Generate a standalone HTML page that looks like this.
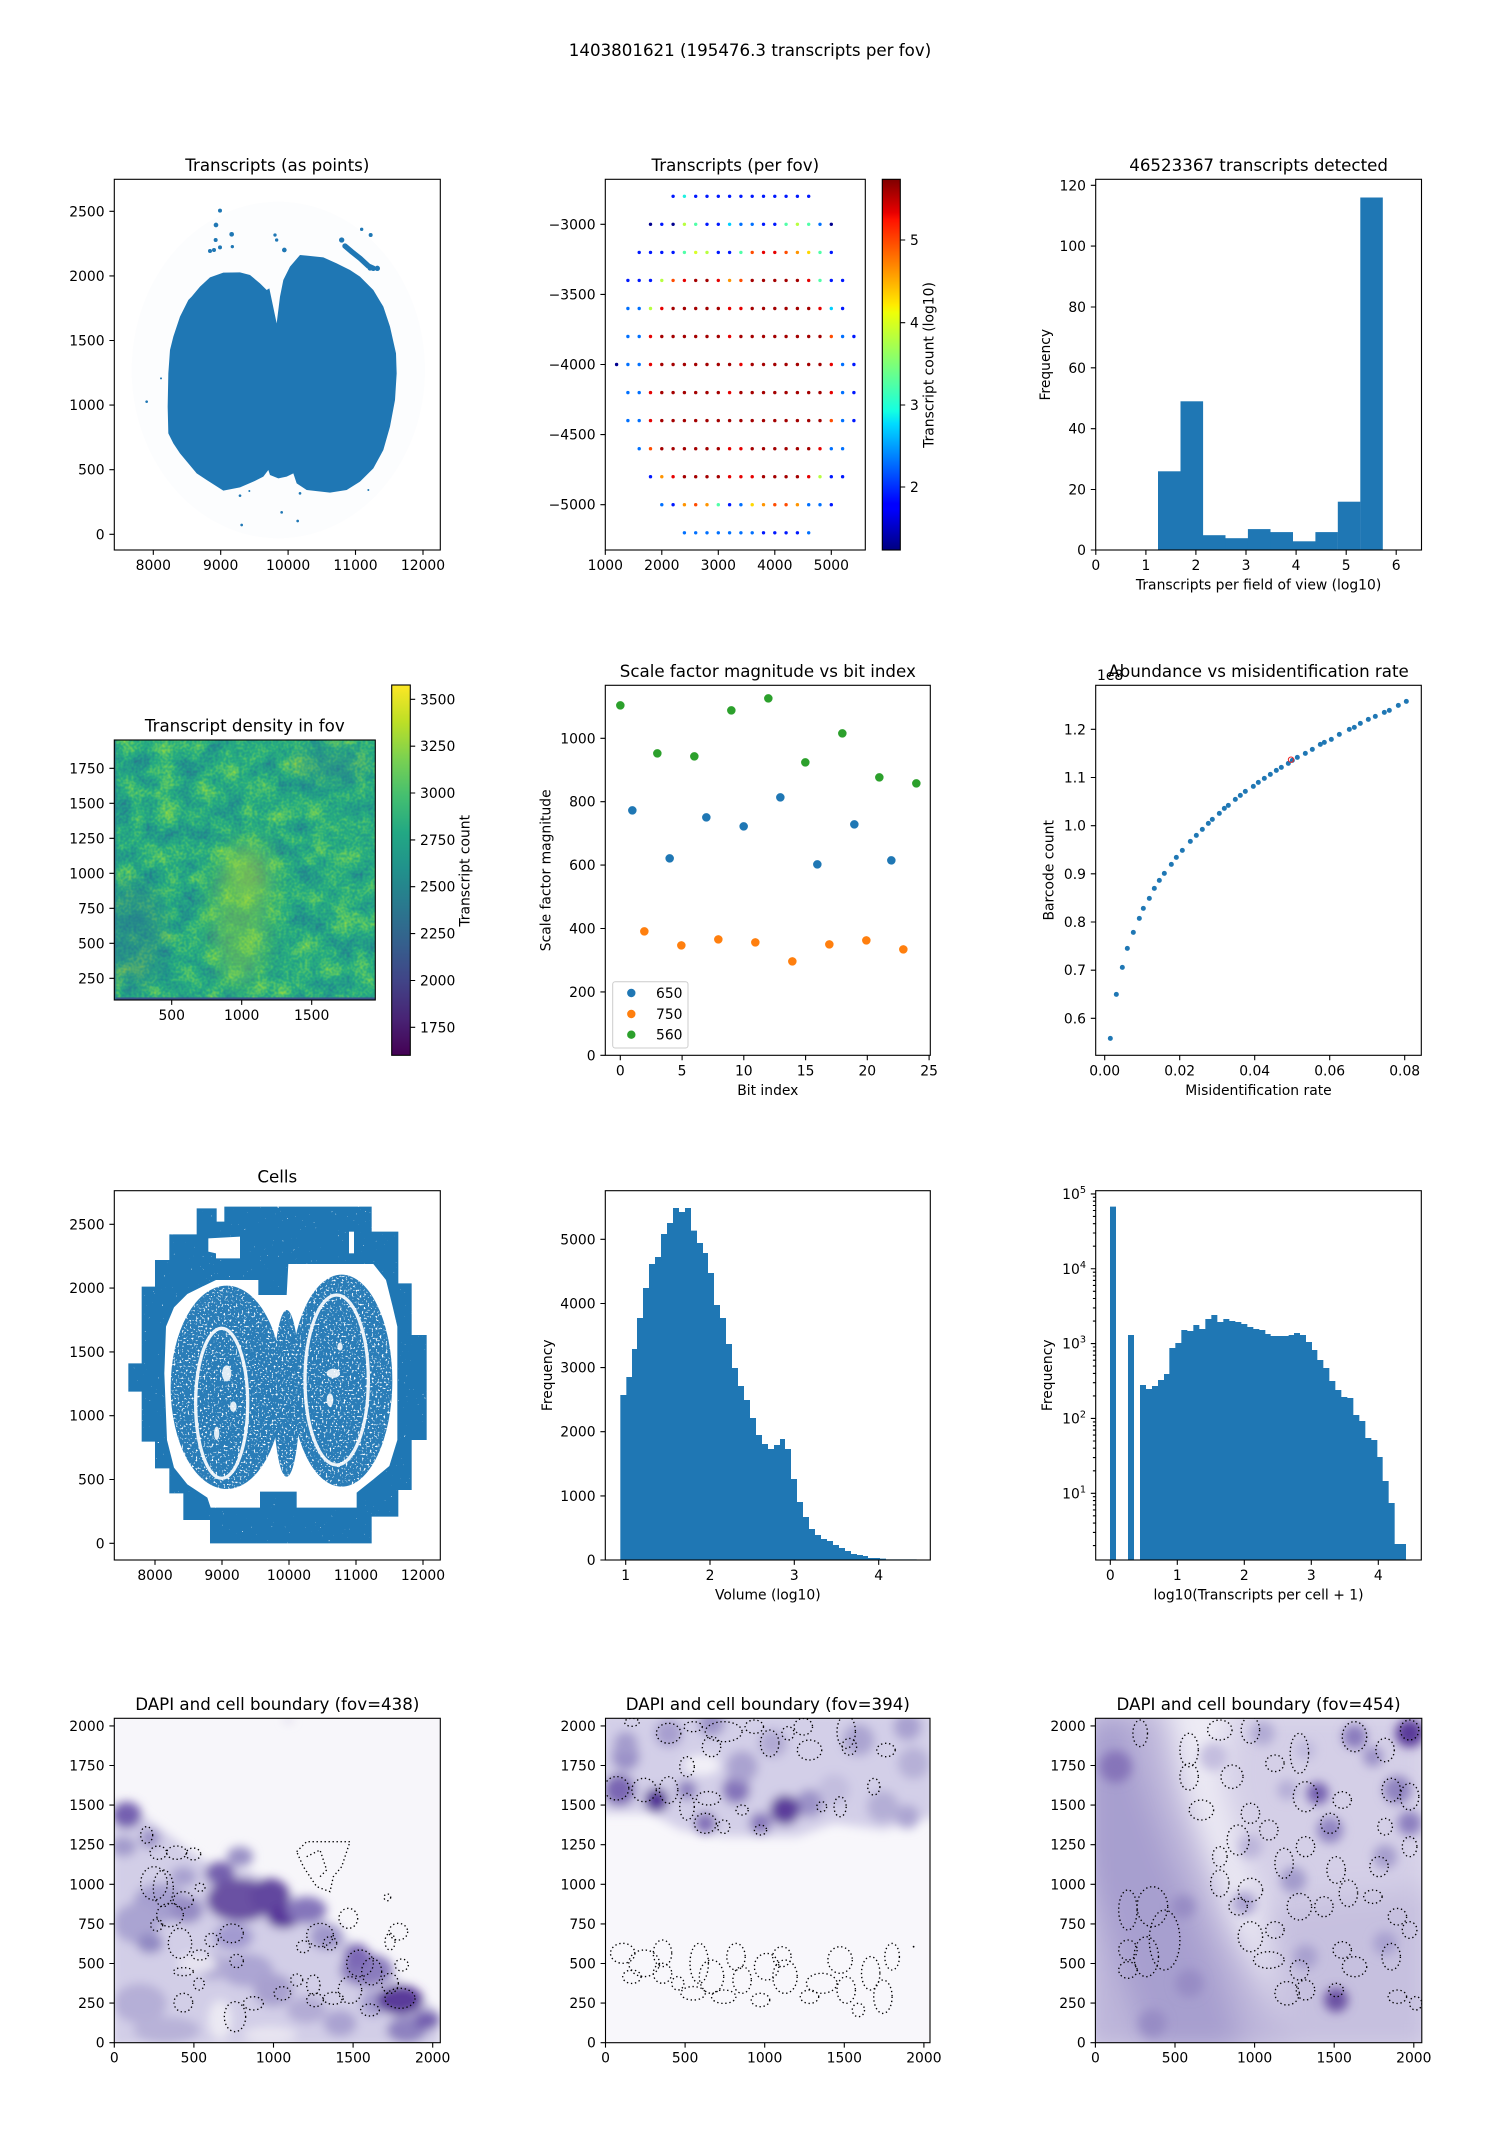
<!DOCTYPE html>
<html><head><meta charset="utf-8"><style>
html,body{margin:0;padding:0;background:#fff;}
svg{display:block;}
text{font-family:"DejaVu Sans","Liberation Sans",sans-serif;fill:#000;}
.t{font-size:13.89px;}
.ti{font-size:16.67px;text-anchor:middle;}
.e{text-anchor:end;}
.c{text-anchor:middle;}
.sp{fill:none;stroke:#000;stroke-width:1.1;}
.tk{stroke:#000;stroke-width:1.1;fill:none;}
.dz{fill:none;stroke:#000;stroke-width:4;stroke-dasharray:4 8;}
.dp{fill:none;stroke:#000;stroke-width:1.35;stroke-dasharray:1.35 2.7;}
.pa{fill:#00008f}.pb{fill:#0018ff}.pc{fill:#0070ff}.pd{fill:#00d0ff}.pe{fill:#20f0e0}.pf{fill:#50ffa8}.pg{fill:#b8ff40}.ph{fill:#d8ff28}.pi{fill:#ffd800}.pj{fill:#ff9400}.pk{fill:#ff4c00}.pl{fill:#e60000}.pm{fill:#a40000}
</style></head><body>
<svg width="1500" height="2150" viewBox="0 0 1500 2150" xmlns="http://www.w3.org/2000/svg">
<defs>
<linearGradient id="jet" x1="0" y1="1" x2="0" y2="0">
<stop offset="0" stop-color="#000080"/><stop offset="0.11" stop-color="#0000ff"/><stop offset="0.125" stop-color="#0000ff"/><stop offset="0.34" stop-color="#00dbff"/><stop offset="0.375" stop-color="#14ffe2"/><stop offset="0.5" stop-color="#7cff79"/><stop offset="0.64" stop-color="#eeff08"/><stop offset="0.66" stop-color="#ffec00"/><stop offset="0.89" stop-color="#ff1300"/><stop offset="0.91" stop-color="#e80000"/><stop offset="1" stop-color="#800000"/>
</linearGradient>
<linearGradient id="vir" x1="0" y1="1" x2="0" y2="0">
<stop offset="0" stop-color="#440154"/><stop offset="0.1" stop-color="#482475"/><stop offset="0.2" stop-color="#414487"/><stop offset="0.3" stop-color="#355f8d"/><stop offset="0.4" stop-color="#2a788e"/><stop offset="0.5" stop-color="#21918c"/><stop offset="0.6" stop-color="#22a884"/><stop offset="0.7" stop-color="#44bf70"/><stop offset="0.8" stop-color="#7ad151"/><stop offset="0.9" stop-color="#bddf26"/><stop offset="1" stop-color="#fde725"/>
</linearGradient>
<filter id="hm" x="0" y="0" width="1" height="1" color-interpolation-filters="sRGB">
<feTurbulence type="fractalNoise" baseFrequency="0.045" numOctaves="3" seed="11" result="n1"/>
<feColorMatrix in="n1" type="matrix" values="1 0 0 0 0  1 0 0 0 0  1 0 0 0 0  0 0 0 0 1" result="m1"/>
<feTurbulence type="fractalNoise" baseFrequency="0.38" numOctaves="1" seed="4" result="n2"/>
<feColorMatrix in="n2" type="matrix" values="1 0 0 0 0  1 0 0 0 0  1 0 0 0 0  0 0 0 0 1" result="m2"/>
<feComposite in="m1" in2="m2" operator="arithmetic" k1="0" k2="0.6" k3="0.4" k4="0" result="cm"/>
<feColorMatrix in="cm" type="matrix" values="0.7 0 0 0 0.27  0.7 0 0 0 0.27  0.7 0 0 0 0.27  0 0 0 0 1"/>
<feComponentTransfer>
<feFuncR type="table" tableValues="0.267 0.278 0.231 0.173 0.129 0.157 0.369 0.678 0.992"/>
<feFuncG type="table" tableValues="0.004 0.176 0.322 0.447 0.569 0.682 0.788 0.863 0.906"/>
<feFuncB type="table" tableValues="0.329 0.482 0.545 0.557 0.549 0.502 0.384 0.188 0.145"/>
</feComponentTransfer>
</filter>
<filter id="spk1" x="0" y="0" width="1" height="1" color-interpolation-filters="sRGB">
<feTurbulence type="fractalNoise" baseFrequency="0.45" numOctaves="2" seed="7"/>
<feColorMatrix type="matrix" values="0 0 0 0 1  0 0 0 0 1  0 0 0 0 1  14 0 0 0 -11"/>
</filter>
<filter id="spk2" x="0" y="0" width="1" height="1" color-interpolation-filters="sRGB">
<feTurbulence type="fractalNoise" baseFrequency="0.5" numOctaves="2" seed="3"/>
<feColorMatrix type="matrix" values="0 0 0 0 1  0 0 0 0 1  0 0 0 0 1  12 0 0 0 -7.4"/>
</filter>
<filter id="bl1" x="-20%" y="-20%" width="140%" height="140%"><feGaussianBlur stdDeviation="14"/></filter>
<filter id="bl2" x="-20%" y="-20%" width="140%" height="140%"><feGaussianBlur stdDeviation="5"/></filter>
<filter id="bl3" x="-50%" y="-50%" width="200%" height="200%"><feGaussianBlur stdDeviation="10"/></filter>
<filter id="bl4" x="-20%" y="-20%" width="140%" height="140%"><feGaussianBlur stdDeviation="14"/></filter>
<clipPath id="c4"><rect x="114.3" y="740" width="261" height="260"/></clipPath>
<clipPath id="c7"><rect x="114.3" y="1190.7" width="326" height="369.3"/></clipPath>
<clipPath id="ov">
<ellipse transform="translate(40,1140) scale(0.333333)" cx="560" cy="742" rx="168" ry="305"/>
<ellipse transform="translate(40,1140) scale(0.333333)" cx="905" cy="722" rx="152" ry="318"/>
<ellipse transform="translate(40,1140) scale(0.333333)" cx="740" cy="760" rx="40" ry="250"/>
</clipPath>
<clipPath id="c10"><rect x="114.3" y="1718.3" width="326" height="324.4"/></clipPath>
<clipPath id="c11"><rect x="605.5" y="1718.3" width="324.5" height="324.4"/></clipPath>
<clipPath id="c12"><rect x="1095.4" y="1718.3" width="326.4" height="324.4"/></clipPath>
</defs>
<rect width="1500" height="2150" fill="#fff"/>

<text x="750" y="56" class="ti">1403801621 (195476.3 transcripts per fov)</text>

<!-- ===== P1 ===== -->
<g transform="translate(40,140) scale(0.333333)">
<ellipse cx="715" cy="690" rx="440" ry="505" fill="#1f77b4" opacity="0.012"/>
<path fill="#1f77b4" d="M710,550 L688,445 L680,450 L660,430 L630,405 L600,397 L550,398 L510,412 L480,440 L455,470 L445,480 L420,530 L400,590 L390,630 L385,700 L383,800 L385,880 L400,910 L420,940 L445,970 L470,1000 L500,1020 L550,1052 L600,1042 L640,1025 L670,1010 L685,990 L690,1005 L715,1015 L740,1010 L760,1000 L770,1030 L800,1050 L870,1058 L920,1050 L960,1025 L1000,985 L1030,930 L1050,860 L1065,780 L1070,700 L1068,640 L1050,560 L1030,500 L1000,450 L960,410 L930,390 L890,370 L850,352 L800,347 L780,345 L750,380 L730,420 L720,470 Z"/>
<g fill="#1f77b4">
<circle cx="540" cy="212" r="6"/><circle cx="528" cy="255" r="7"/><circle cx="527" cy="300" r="6"/><circle cx="522" cy="330" r="6"/><circle cx="510" cy="333" r="6"/><circle cx="540" cy="322" r="6"/><circle cx="575" cy="283" r="7"/><circle cx="577" cy="320" r="5"/><circle cx="705" cy="285" r="5"/><circle cx="710" cy="300" r="5"/><circle cx="733" cy="330" r="7"/><circle cx="905" cy="300" r="8"/><circle cx="965" cy="268" r="5"/><circle cx="992" cy="285" r="6"/><circle cx="1012" cy="385" r="8"/><circle cx="990" cy="385" r="7"/>
<circle cx="605" cy="1155" r="4"/><circle cx="725" cy="1117" r="4"/><circle cx="773" cy="1143" r="4"/><circle cx="780" cy="1060" r="4"/><circle cx="600" cy="1067" r="4"/><circle cx="628" cy="1053" r="3"/><circle cx="320" cy="785" r="4"/><circle cx="363" cy="715" r="3"/><circle cx="985" cy="1050" r="3"/>
</g>
<polyline points="915,318 935,335 960,355 985,378 1000,385" fill="none" stroke="#1f77b4" stroke-width="16" stroke-linecap="round"/>
</g>
<rect x="114.3" y="179.3" width="326" height="370.7" class="sp"/>
<path class="tk" d="M153.3 550v4.9M220.7 550v4.9M288.1 550v4.9M355.5 550v4.9M423 550v4.9M114.3 534.3h-4.9M114.3 469.7h-4.9M114.3 405.1h-4.9M114.3 340.5h-4.9M114.3 275.9h-4.9M114.3 211.3h-4.9"/>
<g class="t c"><text x="153.3" y="570">8000</text><text x="220.7" y="570">9000</text><text x="288.1" y="570">10000</text><text x="355.5" y="570">11000</text><text x="423" y="570">12000</text></g>
<g class="t e"><text x="104.6" y="539.3">0</text><text x="104.6" y="474.7">500</text><text x="104.6" y="410.1">1000</text><text x="104.6" y="345.5">1500</text><text x="104.6" y="280.9">2000</text><text x="104.6" y="216.3">2500</text></g>
<text x="277.3" y="171" class="ti">Transcripts (as points)</text>

<!-- ===== P2 ===== -->
<g transform="translate(0,196.3)"><circle cx="673.1" r="1.7" class="pb"/><circle cx="684.4" r="1.7" class="pe"/><circle cx="695.7" r="1.7" class="pb"/><circle cx="707" r="1.7" class="pb"/><circle cx="718.3" r="1.7" class="pb"/><circle cx="729.6" r="1.7" class="pb"/><circle cx="740.9" r="1.7" class="pb"/><circle cx="752.2" r="1.7" class="pb"/><circle cx="763.5" r="1.7" class="pb"/><circle cx="774.8" r="1.7" class="pb"/><circle cx="786.1" r="1.7" class="pb"/><circle cx="797.4" r="1.7" class="pb"/><circle cx="808.7" r="1.7" class="pb"/></g>
<g transform="translate(0,224.3)"><circle cx="650.5" r="1.7" class="pa"/><circle cx="661.8" r="1.7" class="pb"/><circle cx="673.1" r="1.7" class="pa"/><circle cx="684.4" r="1.7" class="pg"/><circle cx="695.7" r="1.7" class="pf"/><circle cx="707" r="1.7" class="pb"/><circle cx="718.3" r="1.7" class="pb"/><circle cx="729.6" r="1.7" class="pd"/><circle cx="740.9" r="1.7" class="pc"/><circle cx="752.2" r="1.7" class="pc"/><circle cx="763.5" r="1.7" class="pb"/><circle cx="774.8" r="1.7" class="pb"/><circle cx="786.1" r="1.7" class="pf"/><circle cx="797.4" r="1.7" class="pg"/><circle cx="808.7" r="1.7" class="pf"/><circle cx="820" r="1.7" class="pc"/><circle cx="831.3" r="1.7" class="pa"/></g>
<g transform="translate(0,252.4)"><circle cx="639.2" r="1.7" class="pb"/><circle cx="650.5" r="1.7" class="pb"/><circle cx="661.8" r="1.7" class="pb"/><circle cx="673.1" r="1.7" class="pb"/><circle cx="684.4" r="1.7" class="pf"/><circle cx="695.7" r="1.7" class="ph"/><circle cx="707" r="1.7" class="pg"/><circle cx="718.3" r="1.7" class="pb"/><circle cx="729.6" r="1.7" class="pb"/><circle cx="740.9" r="1.7" class="pf"/><circle cx="752.2" r="1.7" class="pk"/><circle cx="763.5" r="1.7" class="pl"/><circle cx="774.8" r="1.7" class="pl"/><circle cx="786.1" r="1.7" class="pk"/><circle cx="797.4" r="1.7" class="pj"/><circle cx="808.7" r="1.7" class="pi"/><circle cx="820" r="1.7" class="pf"/><circle cx="831.3" r="1.7" class="pb"/></g>
<g transform="translate(0,280.4)"><circle cx="627.9" r="1.7" class="pb"/><circle cx="639.2" r="1.7" class="pb"/><circle cx="650.5" r="1.7" class="pb"/><circle cx="661.8" r="1.7" class="pg"/><circle cx="673.1" r="1.7" class="pk"/><circle cx="684.4" r="1.7" class="pl"/><circle cx="695.7" r="1.7" class="pm"/><circle cx="707" r="1.7" class="pm"/><circle cx="718.3" r="1.7" class="pl"/><circle cx="729.6" r="1.7" class="pj"/><circle cx="740.9" r="1.7" class="pk"/><circle cx="752.2" r="1.7" class="pm"/><circle cx="763.5" r="1.7" class="pm"/><circle cx="774.8" r="1.7" class="pm"/><circle cx="786.1" r="1.7" class="pm"/><circle cx="797.4" r="1.7" class="pm"/><circle cx="808.7" r="1.7" class="pl"/><circle cx="820" r="1.7" class="pf"/><circle cx="831.3" r="1.7" class="pb"/><circle cx="842.6" r="1.7" class="pb"/></g>
<g transform="translate(0,308.5)"><circle cx="627.9" r="1.7" class="pc"/><circle cx="639.2" r="1.7" class="pc"/><circle cx="650.5" r="1.7" class="pg"/><circle cx="661.8" r="1.7" class="pl"/><circle cx="673.1" r="1.7" class="pm"/><circle cx="684.4" r="1.7" class="pm"/><circle cx="695.7" r="1.7" class="pm"/><circle cx="707" r="1.7" class="pm"/><circle cx="718.3" r="1.7" class="pm"/><circle cx="729.6" r="1.7" class="pl"/><circle cx="740.9" r="1.7" class="pl"/><circle cx="752.2" r="1.7" class="pm"/><circle cx="763.5" r="1.7" class="pm"/><circle cx="774.8" r="1.7" class="pm"/><circle cx="786.1" r="1.7" class="pm"/><circle cx="797.4" r="1.7" class="pm"/><circle cx="808.7" r="1.7" class="pm"/><circle cx="820" r="1.7" class="pl"/><circle cx="831.3" r="1.7" class="pd"/><circle cx="842.6" r="1.7" class="pb"/></g>
<g transform="translate(0,336.5)"><circle cx="627.9" r="1.7" class="pc"/><circle cx="639.2" r="1.7" class="pc"/><circle cx="650.5" r="1.7" class="pl"/><circle cx="661.8" r="1.7" class="pm"/><circle cx="673.1" r="1.7" class="pm"/><circle cx="684.4" r="1.7" class="pm"/><circle cx="695.7" r="1.7" class="pm"/><circle cx="707" r="1.7" class="pm"/><circle cx="718.3" r="1.7" class="pm"/><circle cx="729.6" r="1.7" class="pl"/><circle cx="740.9" r="1.7" class="pm"/><circle cx="752.2" r="1.7" class="pm"/><circle cx="763.5" r="1.7" class="pm"/><circle cx="774.8" r="1.7" class="pm"/><circle cx="786.1" r="1.7" class="pm"/><circle cx="797.4" r="1.7" class="pm"/><circle cx="808.7" r="1.7" class="pm"/><circle cx="820" r="1.7" class="pm"/><circle cx="831.3" r="1.7" class="pk"/><circle cx="842.6" r="1.7" class="pc"/><circle cx="853.9" r="1.7" class="pb"/></g>
<g transform="translate(0,364.5)"><circle cx="616.6" r="1.7" class="pa"/><circle cx="627.9" r="1.7" class="pc"/><circle cx="639.2" r="1.7" class="pc"/><circle cx="650.5" r="1.7" class="pl"/><circle cx="661.8" r="1.7" class="pm"/><circle cx="673.1" r="1.7" class="pm"/><circle cx="684.4" r="1.7" class="pm"/><circle cx="695.7" r="1.7" class="pm"/><circle cx="707" r="1.7" class="pm"/><circle cx="718.3" r="1.7" class="pm"/><circle cx="729.6" r="1.7" class="pm"/><circle cx="740.9" r="1.7" class="pl"/><circle cx="752.2" r="1.7" class="pm"/><circle cx="763.5" r="1.7" class="pm"/><circle cx="774.8" r="1.7" class="pm"/><circle cx="786.1" r="1.7" class="pm"/><circle cx="797.4" r="1.7" class="pm"/><circle cx="808.7" r="1.7" class="pm"/><circle cx="820" r="1.7" class="pm"/><circle cx="831.3" r="1.7" class="pl"/><circle cx="842.6" r="1.7" class="pc"/><circle cx="853.9" r="1.7" class="pb"/></g>
<g transform="translate(0,392.6)"><circle cx="627.9" r="1.7" class="pc"/><circle cx="639.2" r="1.7" class="pc"/><circle cx="650.5" r="1.7" class="pl"/><circle cx="661.8" r="1.7" class="pm"/><circle cx="673.1" r="1.7" class="pm"/><circle cx="684.4" r="1.7" class="pm"/><circle cx="695.7" r="1.7" class="pm"/><circle cx="707" r="1.7" class="pm"/><circle cx="718.3" r="1.7" class="pm"/><circle cx="729.6" r="1.7" class="pl"/><circle cx="740.9" r="1.7" class="pm"/><circle cx="752.2" r="1.7" class="pm"/><circle cx="763.5" r="1.7" class="pm"/><circle cx="774.8" r="1.7" class="pm"/><circle cx="786.1" r="1.7" class="pm"/><circle cx="797.4" r="1.7" class="pm"/><circle cx="808.7" r="1.7" class="pm"/><circle cx="820" r="1.7" class="pm"/><circle cx="831.3" r="1.7" class="pl"/><circle cx="842.6" r="1.7" class="pc"/><circle cx="853.9" r="1.7" class="pb"/></g>
<g transform="translate(0,420.6)"><circle cx="627.9" r="1.7" class="pc"/><circle cx="639.2" r="1.7" class="pc"/><circle cx="650.5" r="1.7" class="pl"/><circle cx="661.8" r="1.7" class="pm"/><circle cx="673.1" r="1.7" class="pm"/><circle cx="684.4" r="1.7" class="pm"/><circle cx="695.7" r="1.7" class="pm"/><circle cx="707" r="1.7" class="pm"/><circle cx="718.3" r="1.7" class="pm"/><circle cx="729.6" r="1.7" class="pm"/><circle cx="740.9" r="1.7" class="pm"/><circle cx="752.2" r="1.7" class="pm"/><circle cx="763.5" r="1.7" class="pm"/><circle cx="774.8" r="1.7" class="pm"/><circle cx="786.1" r="1.7" class="pm"/><circle cx="797.4" r="1.7" class="pm"/><circle cx="808.7" r="1.7" class="pm"/><circle cx="820" r="1.7" class="pm"/><circle cx="831.3" r="1.7" class="pk"/><circle cx="842.6" r="1.7" class="pc"/><circle cx="853.9" r="1.7" class="pb"/></g>
<g transform="translate(0,448.7)"><circle cx="639.2" r="1.7" class="pc"/><circle cx="650.5" r="1.7" class="pk"/><circle cx="661.8" r="1.7" class="pm"/><circle cx="673.1" r="1.7" class="pm"/><circle cx="684.4" r="1.7" class="pm"/><circle cx="695.7" r="1.7" class="pm"/><circle cx="707" r="1.7" class="pm"/><circle cx="718.3" r="1.7" class="pm"/><circle cx="729.6" r="1.7" class="pl"/><circle cx="740.9" r="1.7" class="pl"/><circle cx="752.2" r="1.7" class="pm"/><circle cx="763.5" r="1.7" class="pm"/><circle cx="774.8" r="1.7" class="pm"/><circle cx="786.1" r="1.7" class="pm"/><circle cx="797.4" r="1.7" class="pm"/><circle cx="808.7" r="1.7" class="pm"/><circle cx="820" r="1.7" class="pl"/><circle cx="831.3" r="1.7" class="pc"/><circle cx="842.6" r="1.7" class="pc"/></g>
<g transform="translate(0,476.7)"><circle cx="650.5" r="1.7" class="pb"/><circle cx="661.8" r="1.7" class="pj"/><circle cx="673.1" r="1.7" class="pl"/><circle cx="684.4" r="1.7" class="pm"/><circle cx="695.7" r="1.7" class="pm"/><circle cx="707" r="1.7" class="pm"/><circle cx="718.3" r="1.7" class="pm"/><circle cx="729.6" r="1.7" class="pl"/><circle cx="740.9" r="1.7" class="pl"/><circle cx="752.2" r="1.7" class="pl"/><circle cx="763.5" r="1.7" class="pm"/><circle cx="774.8" r="1.7" class="pm"/><circle cx="786.1" r="1.7" class="pm"/><circle cx="797.4" r="1.7" class="pm"/><circle cx="808.7" r="1.7" class="pl"/><circle cx="820" r="1.7" class="pg"/><circle cx="831.3" r="1.7" class="pb"/><circle cx="842.6" r="1.7" class="pb"/></g>
<g transform="translate(0,504.7)"><circle cx="661.8" r="1.7" class="pc"/><circle cx="673.1" r="1.7" class="pb"/><circle cx="684.4" r="1.7" class="pj"/><circle cx="695.7" r="1.7" class="pk"/><circle cx="707" r="1.7" class="pj"/><circle cx="718.3" r="1.7" class="pf"/><circle cx="729.6" r="1.7" class="pb"/><circle cx="740.9" r="1.7" class="pc"/><circle cx="752.2" r="1.7" class="pi"/><circle cx="763.5" r="1.7" class="pj"/><circle cx="774.8" r="1.7" class="pk"/><circle cx="786.1" r="1.7" class="pk"/><circle cx="797.4" r="1.7" class="pj"/><circle cx="808.7" r="1.7" class="pc"/><circle cx="820" r="1.7" class="pc"/><circle cx="831.3" r="1.7" class="pb"/></g>
<g transform="translate(0,532.8)"><circle cx="684.4" r="1.7" class="pc"/><circle cx="695.7" r="1.7" class="pc"/><circle cx="707" r="1.7" class="pc"/><circle cx="718.3" r="1.7" class="pc"/><circle cx="729.6" r="1.7" class="pc"/><circle cx="740.9" r="1.7" class="pc"/><circle cx="752.2" r="1.7" class="pc"/><circle cx="763.5" r="1.7" class="pb"/><circle cx="774.8" r="1.7" class="pb"/><circle cx="786.1" r="1.7" class="pb"/><circle cx="797.4" r="1.7" class="pb"/><circle cx="808.7" r="1.7" class="pc"/></g>
<rect x="605.3" y="179.3" width="260" height="370.7" class="sp"/>
<path class="tk" d="M605.3 550v4.9M661.8 550v4.9M718.3 550v4.9M774.8 550v4.9M831.3 550v4.9M605.3 224.3h-4.9M605.3 294.4h-4.9M605.3 364.5h-4.9M605.3 434.6h-4.9M605.3 504.7h-4.9"/>
<g class="t c"><text x="605.3" y="570">1000</text><text x="661.8" y="570">2000</text><text x="718.3" y="570">3000</text><text x="774.8" y="570">4000</text><text x="831.3" y="570">5000</text></g>
<g class="t e"><text x="595.6" y="229.3">−3000</text><text x="595.6" y="299.4">−3500</text><text x="595.6" y="369.5">−4000</text><text x="595.6" y="439.6">−4500</text><text x="595.6" y="509.7">−5000</text></g>
<text x="735.3" y="171" class="ti">Transcripts (per fov)</text>
<rect x="882.3" y="179.3" width="18" height="370.7" fill="url(#jet)"/>
<rect x="882.3" y="179.3" width="18" height="370.7" class="sp"/>
<path class="tk" d="M900.3 487h4.9M900.3 405h4.9M900.3 322.7h4.9M900.3 240h4.9"/>
<g class="t"><text x="910" y="492">2</text><text x="910" y="410">3</text><text x="910" y="327.7">4</text><text x="910" y="245">5</text></g>
<text class="t c" transform="translate(933.5,365) rotate(-90)">Transcript count (log10)</text>

<!-- ===== P3 ===== -->
<g fill="#1f77b4">
<rect x="1158" y="471.3" width="22.6" height="78.7"/><rect x="1180.5" y="401.3" width="22.6" height="148.7"/><rect x="1203" y="535.2" width="22.5" height="14.8"/><rect x="1225.4" y="538.2" width="22.6" height="11.8"/><rect x="1247.9" y="529.1" width="22.6" height="20.9"/><rect x="1270.4" y="532.1" width="22.6" height="17.9"/><rect x="1292.9" y="541.3" width="22.6" height="8.7"/><rect x="1315.4" y="532.1" width="22.5" height="17.9"/><rect x="1337.8" y="501.7" width="22.6" height="48.3"/><rect x="1360.3" y="197.5" width="22.5" height="352.5"/>
</g>
<rect x="1095.7" y="179.3" width="325.8" height="370.7" class="sp"/>
<path class="tk" d="M1095.8 550v4.9M1145.9 550v4.9M1195.9 550v4.9M1246 550v4.9M1296.1 550v4.9M1346.2 550v4.9M1396.2 550v4.9M1095.7 550h-4.9M1095.7 489.5h-4.9M1095.7 428.7h-4.9M1095.7 367.8h-4.9M1095.7 307h-4.9M1095.7 246.1h-4.9M1095.7 185.3h-4.9"/>
<g class="t c"><text x="1095.8" y="570">0</text><text x="1145.9" y="570">1</text><text x="1195.9" y="570">2</text><text x="1246" y="570">3</text><text x="1296.1" y="570">4</text><text x="1346.2" y="570">5</text><text x="1396.2" y="570">6</text></g>
<g class="t e"><text x="1086" y="555">0</text><text x="1086" y="494.5">20</text><text x="1086" y="433.7">40</text><text x="1086" y="372.8">60</text><text x="1086" y="312">80</text><text x="1086" y="251.1">100</text><text x="1086" y="190.3">120</text></g>
<text x="1258.6" y="171" class="ti">46523367 transcripts detected</text>
<text x="1258.6" y="589.5" class="t c">Transcripts per field of view (log10)</text>
<text class="t c" transform="translate(1050,364.7) rotate(-90)">Frequency</text>

<!-- ===== P4 heatmap ===== -->
<g clip-path="url(#c4)">
<rect x="114.3" y="740" width="261" height="260" filter="url(#hm)"/>
<g filter="url(#bl3)">
<ellipse cx="240" cy="915" rx="28" ry="70" fill="#c0df25" opacity="0.3"/>
<ellipse cx="252" cy="872" rx="22" ry="30" fill="#d0e020" opacity="0.25"/>
<ellipse cx="135" cy="935" rx="30" ry="55" fill="#31688e" opacity="0.3"/>
<ellipse cx="330" cy="765" rx="40" ry="18" fill="#31688e" opacity="0.22"/>
</g>
<rect x="114.3" y="997.5" width="261" height="2.5" fill="#3b528b"/>
<rect x="114.3" y="740" width="2" height="260" fill="#2c728e" opacity="0.7"/>
</g>
<rect x="114.3" y="740" width="261" height="260" class="sp"/>
<path class="tk" d="M171.7 1000v4.9M241.7 1000v4.9M311.7 1000v4.9M114.3 768.3h-4.9M114.3 803.3h-4.9M114.3 838.3h-4.9M114.3 873.3h-4.9M114.3 908.3h-4.9M114.3 943.3h-4.9M114.3 978.3h-4.9"/>
<g class="t c"><text x="171.7" y="1020">500</text><text x="241.7" y="1020">1000</text><text x="311.7" y="1020">1500</text></g>
<g class="t e"><text x="104.6" y="773.3">1750</text><text x="104.6" y="808.3">1500</text><text x="104.6" y="843.3">1250</text><text x="104.6" y="878.3">1000</text><text x="104.6" y="913.3">750</text><text x="104.6" y="948.3">500</text><text x="104.6" y="983.3">250</text></g>
<text x="244.8" y="731.7" class="ti">Transcript density in fov</text>
<rect x="391.7" y="685" width="18.6" height="370.3" fill="url(#vir)"/>
<rect x="391.7" y="685" width="18.6" height="370.3" class="sp"/>
<path class="tk" d="M410.3 699.3h4.9M410.3 746.2h4.9M410.3 793h4.9M410.3 839.9h4.9M410.3 886.7h4.9M410.3 933.6h4.9M410.3 980.5h4.9M410.3 1027.3h4.9"/>
<g class="t"><text x="420" y="704.3">3500</text><text x="420" y="751.2">3250</text><text x="420" y="798">3000</text><text x="420" y="844.9">2750</text><text x="420" y="891.7">2500</text><text x="420" y="938.6">2250</text><text x="420" y="985.5">2000</text><text x="420" y="1032.3">1750</text></g>
<text class="t c" transform="translate(469.5,870.8) rotate(-90)">Transcript count</text>

<!-- ===== P5 ===== -->
<g transform="translate(530,640) scale(0.333333)" stroke="#fff" stroke-width="2.4">
<g fill="#1f77b4"><circle cx="307" cy="511" r="14"/><circle cx="419" cy="655" r="14"/><circle cx="529" cy="532" r="14"/><circle cx="641" cy="559" r="14"/><circle cx="751" cy="472" r="14"/><circle cx="862" cy="673" r="14"/><circle cx="973" cy="553" r="14"/><circle cx="1084" cy="661" r="14"/></g>
<g fill="#ff7f0e"><circle cx="343" cy="874" r="14"/><circle cx="454" cy="916" r="14"/><circle cx="565" cy="898" r="14"/><circle cx="676" cy="907" r="14"/><circle cx="787" cy="964" r="14"/><circle cx="898" cy="913" r="14"/><circle cx="1009" cy="901" r="14"/><circle cx="1120" cy="928" r="14"/></g>
<g fill="#2ca02c"><circle cx="271" cy="196" r="14"/><circle cx="382" cy="340" r="14"/><circle cx="493" cy="349" r="14"/><circle cx="604" cy="211" r="14"/><circle cx="715" cy="175" r="14"/><circle cx="826" cy="367" r="14"/><circle cx="937" cy="280" r="14"/><circle cx="1048" cy="412" r="14"/><circle cx="1159" cy="430" r="14"/></g>
</g>
<rect x="612.7" y="981.7" width="75.3" height="66.3" rx="2.5" fill="#fff" fill-opacity="0.8" stroke="#cccccc" stroke-width="1"/>
<circle cx="631.3" cy="993" r="4.6" fill="#1f77b4" stroke="#fff" stroke-width="0.8"/>
<circle cx="631.3" cy="1014" r="4.6" fill="#ff7f0e" stroke="#fff" stroke-width="0.8"/>
<circle cx="631.3" cy="1034.7" r="4.6" fill="#2ca02c" stroke="#fff" stroke-width="0.8"/>
<g class="t"><text x="656" y="998">650</text><text x="656" y="1019">750</text><text x="656" y="1039.7">560</text></g>
<rect x="605.3" y="685.3" width="325" height="370" class="sp"/>
<path class="tk" d="M620.3 1055.3v4.9M682.1 1055.3v4.9M743.8 1055.3v4.9M805.6 1055.3v4.9M867.3 1055.3v4.9M929.1 1055.3v4.9M605.3 1055.3h-4.9M605.3 991.9h-4.9M605.3 928.5h-4.9M605.3 865.1h-4.9M605.3 801.7h-4.9M605.3 738.3h-4.9"/>
<g class="t c"><text x="620.3" y="1075.3">0</text><text x="682.1" y="1075.3">5</text><text x="743.8" y="1075.3">10</text><text x="805.6" y="1075.3">15</text><text x="867.3" y="1075.3">20</text><text x="929.1" y="1075.3">25</text></g>
<g class="t e"><text x="595.6" y="1060.3">0</text><text x="595.6" y="996.9">200</text><text x="595.6" y="933.5">400</text><text x="595.6" y="870.1">600</text><text x="595.6" y="806.7">800</text><text x="595.6" y="743.3">1000</text></g>
<text x="767.8" y="677" class="ti">Scale factor magnitude vs bit index</text>
<text x="767.8" y="1095" class="t c">Bit index</text>
<text class="t c" transform="translate(550.5,870.3) rotate(-90)">Scale factor magnitude</text>

<!-- ===== P6 ===== -->
<g transform="translate(1010,640) scale(0.333333)" fill="#1f77b4">
<circle cx="301" cy="1195" r="7.5"/><circle cx="319" cy="1063" r="7.5"/><circle cx="337" cy="982" r="7.5"/><circle cx="352" cy="925" r="7.5"/><circle cx="370" cy="877" r="7.5"/><circle cx="388" cy="835" r="7.5"/><circle cx="400" cy="805" r="7.5"/><circle cx="418" cy="775" r="7.5"/><circle cx="433" cy="745" r="7.5"/><circle cx="448" cy="721" r="7.5"/><circle cx="463" cy="700" r="7.5"/><circle cx="484" cy="673" r="7.5"/><circle cx="499" cy="652" r="7.5"/><circle cx="517" cy="631" r="7.5"/><circle cx="541" cy="604" r="7.5"/><circle cx="559" cy="586" r="7.5"/><circle cx="577" cy="568" r="7.5"/><circle cx="595" cy="550" r="7.5"/><circle cx="607" cy="538" r="7.5"/><circle cx="628" cy="520" r="7.5"/><circle cx="643" cy="505" r="7.5"/><circle cx="655" cy="496" r="7.5"/><circle cx="676" cy="478" r="7.5"/><circle cx="691" cy="466" r="7.5"/><circle cx="706" cy="454" r="7.5"/><circle cx="730" cy="439" r="7.5"/><circle cx="745" cy="427" r="7.5"/><circle cx="763" cy="415" r="7.5"/><circle cx="781" cy="403" r="7.5"/><circle cx="799" cy="391" r="7.5"/><circle cx="814" cy="382" r="7.5"/><circle cx="835" cy="370" r="7.5"/><circle cx="847" cy="361" r="7.5"/><circle cx="862" cy="352" r="7.5"/><circle cx="886" cy="340" r="7.5"/><circle cx="907" cy="328" r="7.5"/><circle cx="931" cy="313" r="7.5"/><circle cx="943" cy="307" r="7.5"/><circle cx="964" cy="298" r="7.5"/><circle cx="988" cy="283" r="7.5"/><circle cx="1018" cy="268" r="7.5"/><circle cx="1033" cy="262" r="7.5"/><circle cx="1051" cy="250" r="7.5"/><circle cx="1075" cy="238" r="7.5"/><circle cx="1096" cy="229" r="7.5"/><circle cx="1123" cy="217" r="7.5"/><circle cx="1138" cy="211" r="7.5"/><circle cx="1165" cy="196" r="7.5"/><circle cx="1189" cy="184" r="7.5"/>
<circle cx="843" cy="359" r="8" fill="none" stroke="#ee2222" stroke-width="3"/>
</g>
<rect x="1095.7" y="685.3" width="325.6" height="370" class="sp"/>
<path class="tk" d="M1104.7 1055.3v4.9M1179.7 1055.3v4.9M1254.7 1055.3v4.9M1329.7 1055.3v4.9M1404.7 1055.3v4.9M1095.7 729.3h-4.9M1095.7 777.5h-4.9M1095.7 825.7h-4.9M1095.7 873.8h-4.9M1095.7 922h-4.9M1095.7 970.2h-4.9M1095.7 1018.3h-4.9"/>
<g class="t c"><text x="1104.7" y="1075.3">0.00</text><text x="1179.7" y="1075.3">0.02</text><text x="1254.7" y="1075.3">0.04</text><text x="1329.7" y="1075.3">0.06</text><text x="1404.7" y="1075.3">0.08</text></g>
<g class="t e"><text x="1086" y="734.3">1.2</text><text x="1086" y="782.5">1.1</text><text x="1086" y="830.7">1.0</text><text x="1086" y="878.8">0.9</text><text x="1086" y="927">0.8</text><text x="1086" y="975.2">0.7</text><text x="1086" y="1023.3">0.6</text></g>
<text x="1097" y="680" class="t">1e8</text>
<text x="1258.5" y="677" class="ti">Abundance vs misidentification rate</text>
<text x="1258.5" y="1095" class="t c">Misidentification rate</text>
<text class="t c" transform="translate(1053.5,870.3) rotate(-90)">Barcode count</text>

<!-- ===== P7 Cells ===== -->
<g transform="translate(40,1140) scale(0.333333)">
<path fill="#1f77b4" d="M470,205 L530,205 L530,245 L553,245 L553,200 L995,200 L995,275 L1075,275 L1075,430 L1115,430 L1115,585 L1160,585 L1160,900 L1115,900 L1115,1050 L1075,1050 L1075,1130 L995,1130 L995,1210 L510,1210 L510,1140 L430,1140 L430,1060 L388,1060 L388,985 L345,985 L345,905 L305,905 L305,755 L265,755 L265,670 L305,670 L305,440 L345,440 L345,360 L388,360 L388,283 L470,283 Z"/>
<polygon fill="#fff" points="505,295 600,290 600,355 528,355 528,340 505,335"/>
<polygon fill="#fff" points="378,560 402,502 442,462 482,442 528,420 655,420 655,465 740,465 745,372 1000,372 1038,420 1058,500 1072,560 1072,900 1048,978 1000,1018 950,1058 950,1103 770,1103 770,1055 660,1055 660,1103 512,1103 502,1073 442,1033 402,983 381,900 373,700"/>
<polygon fill="#fff" points="927,275 942,275 942,340 927,340"/>
<g fill="#2a7db8">
<ellipse cx="560" cy="742" rx="168" ry="305"/>
<ellipse cx="905" cy="722" rx="152" ry="318"/>
<ellipse cx="740" cy="760" rx="40" ry="250"/>
</g>
<g fill="none" stroke="#fff" stroke-width="10" opacity="0.9">
<ellipse cx="545" cy="790" rx="78" ry="225"/>
<ellipse cx="890" cy="720" rx="95" ry="255"/>
</g>
<g fill="#fff" opacity="0.85">
<ellipse cx="560" cy="700" rx="14" ry="24"/><ellipse cx="580" cy="800" rx="10" ry="16"/><ellipse cx="530" cy="880" rx="8" ry="20"/><ellipse cx="880" cy="700" rx="20" ry="14"/><ellipse cx="870" cy="780" rx="10" ry="20"/><ellipse cx="900" cy="620" rx="8" ry="12"/>
</g>
</g>
<g clip-path="url(#c7)"><rect x="114.3" y="1190.7" width="326" height="369.3" filter="url(#spk1)"/></g>
<g clip-path="url(#ov)"><rect x="114.3" y="1190.7" width="326" height="369.3" filter="url(#spk2)"/></g>
<rect x="114.3" y="1190.7" width="326" height="369.3" class="sp"/>
<path class="tk" d="M155 1560v4.9M222 1560v4.9M289 1560v4.9M356 1560v4.9M423 1560v4.9M114.3 1543.3h-4.9M114.3 1479.5h-4.9M114.3 1415.7h-4.9M114.3 1351.9h-4.9M114.3 1288.1h-4.9M114.3 1224.3h-4.9"/>
<g class="t c"><text x="155" y="1580">8000</text><text x="222" y="1580">9000</text><text x="289" y="1580">10000</text><text x="356" y="1580">11000</text><text x="423" y="1580">12000</text></g>
<g class="t e"><text x="104.6" y="1548.3">0</text><text x="104.6" y="1484.5">500</text><text x="104.6" y="1420.7">1000</text><text x="104.6" y="1356.9">1500</text><text x="104.6" y="1293.1">2000</text><text x="104.6" y="1229.3">2500</text></g>
<text x="277.3" y="1182.4" class="ti">Cells</text>

<!-- ===== P8 ===== -->
<g transform="translate(530,1140) scale(0.333333)">
<path fill="#1f77b4" d="M271 1260 V765 H289 V711 H306 V627 H321 V534 H339 V444 H357 V372 H375 V351 H393 V282 H411 V249 H429 V204 H447 V216 H465 V204 H483 V272 H501 V309 H519 V339 H534 V399 H552 V495 H570 V534 H588 V612 H606 V684 H624 V738 H642 V780 H660 V834 H678 V885 H696 V912 H714 V927 H732 V915 H750 V897 H765 V927 H783 V1017 H801 V1086 H819 V1131 H837 V1167 H855 V1185 H873 V1197 H891 V1203 H909 V1215 H927 V1224 H945 V1233 H963 V1242 H981 V1245 H999 V1248 H1014 V1254 H1050 V1256 H1068 V1258 H1160 V1260 Z"/>
</g>
<rect x="605.3" y="1190.7" width="325" height="369.3" class="sp"/>
<path class="tk" d="M625.7 1560v4.9M710 1560v4.9M794.3 1560v4.9M878.7 1560v4.9M605.3 1560h-4.9M605.3 1495.9h-4.9M605.3 1431.7h-4.9M605.3 1367.6h-4.9M605.3 1303.5h-4.9M605.3 1239.3h-4.9"/>
<g class="t c"><text x="625.7" y="1580">1</text><text x="710" y="1580">2</text><text x="794.3" y="1580">3</text><text x="878.7" y="1580">4</text></g>
<g class="t e"><text x="595.6" y="1565">0</text><text x="595.6" y="1500.9">1000</text><text x="595.6" y="1436.7">2000</text><text x="595.6" y="1372.6">3000</text><text x="595.6" y="1308.5">4000</text><text x="595.6" y="1244.3">5000</text></g>
<text x="767.8" y="1599.5" class="t c">Volume (log10)</text>
<text class="t c" transform="translate(551.8,1375.3) rotate(-90)">Frequency</text>

<!-- ===== P9 ===== -->
<g transform="translate(1010,1140) scale(0.333333)" fill="#1f77b4">
<path d="M300 1260 V200 H318 V1260 Z"/>
<path d="M354 1260 V585 H372 V1260 Z"/>
<path d="M390 1260 V735 H408 V747 H426 V738 H444 V720 H462 V702 H478 V624 H496 V609 H514 V570 H532 V573 H550 V555 H568 V567 H586 V537 H604 V525 H622 V546 H640 V537 H658 V543 H676 V546 H694 V552 H712 V561 H730 V567 H748 V570 H766 V582 H782 V588 H836 V585 H852 V579 H870 V585 H888 V606 H906 V630 H922 V660 H940 V684 H958 V723 H976 V750 H994 V771 H1012 V774 H1030 V825 H1048 V843 H1066 V894 H1084 V900 H1102 V951 H1118 V1023 H1136 V1089 H1154 V1212 H1188 V1260 Z"/>
</g>
<rect x="1095.7" y="1190.7" width="325.6" height="369.3" class="sp"/>
<path class="tk" d="M1110.3 1560v4.9M1177.3 1560v4.9M1244.3 1560v4.9M1311.3 1560v4.9M1378.3 1560v4.9M1095.7 1493.3h-4.9M1095.7 1418.45h-4.9M1095.7 1343.6h-4.9M1095.7 1268.75h-4.9M1095.7 1193.9h-4.9"/>
<path class="tk" stroke-width="0.8" d="M1095.7 1545.6h-2.8M1095.7 1532.4h-2.8M1095.7 1523.1h-2.8M1095.7 1515.8h-2.8M1095.7 1509.9h-2.8M1095.7 1504.9h-2.8M1095.7 1500.6h-2.8M1095.7 1496.7h-2.8M1095.7 1470.8h-2.8M1095.7 1457.6h-2.8M1095.7 1448.2h-2.8M1095.7 1441h-2.8M1095.7 1435.1h-2.8M1095.7 1430.1h-2.8M1095.7 1425.7h-2.8M1095.7 1421.9h-2.8M1095.7 1395.9h-2.8M1095.7 1382.7h-2.8M1095.7 1373.4h-2.8M1095.7 1366.1h-2.8M1095.7 1360.2h-2.8M1095.7 1355.2h-2.8M1095.7 1350.9h-2.8M1095.7 1347h-2.8M1095.7 1321.1h-2.8M1095.7 1307.9h-2.8M1095.7 1298.5h-2.8M1095.7 1291.3h-2.8M1095.7 1285.4h-2.8M1095.7 1280.4h-2.8M1095.7 1276h-2.8M1095.7 1272.2h-2.8M1095.7 1246.2h-2.8M1095.7 1233h-2.8M1095.7 1223.7h-2.8M1095.7 1216.4h-2.8M1095.7 1210.5h-2.8M1095.7 1205.5h-2.8M1095.7 1201.2h-2.8M1095.7 1197.3h-2.8"/>
<g class="t c"><text x="1110.3" y="1580">0</text><text x="1177.3" y="1580">1</text><text x="1244.3" y="1580">2</text><text x="1311.3" y="1580">3</text><text x="1378.3" y="1580">4</text></g>
<g class="t e"><text x="1086" y="1498.3">10<tspan dy="-6" font-size="9.7px">1</tspan></text><text x="1086" y="1423.45">10<tspan dy="-6" font-size="9.7px">2</tspan></text><text x="1086" y="1348.6">10<tspan dy="-6" font-size="9.7px">3</tspan></text><text x="1086" y="1273.75">10<tspan dy="-6" font-size="9.7px">4</tspan></text><text x="1086" y="1198.9">10<tspan dy="-6" font-size="9.7px">5</tspan></text></g>
<text x="1258.5" y="1599.5" class="t c">log10(Transcripts per cell + 1)</text>
<text class="t c" transform="translate(1051.8,1375.3) rotate(-90)">Frequency</text>

<!-- ===== P10 DAPI 438 ===== -->
<g clip-path="url(#c10)">
<rect x="114.3" y="1718.3" width="326" height="324.4" fill="#f7f6fa"/>
<g transform="translate(40,1670) scale(0.333333)">
<g filter="url(#bl1)">
<polygon fill="#d2cee7" points="223,395 300,430 420,520 520,590 620,600 720,650 800,700 900,790 1000,860 1100,950 1201,1030 1201,1130 215,1130 215,395"/>
<ellipse cx="360" cy="700" rx="80" ry="60" fill="#a59fcf"/><ellipse cx="290" cy="760" rx="70" ry="60" fill="#aaa4d2"/><ellipse cx="440" cy="720" rx="50" ry="40" fill="#958bc4"/><ellipse cx="330" cy="820" rx="40" ry="30" fill="#9189c3"/><ellipse cx="580" cy="800" rx="60" ry="40" fill="#a29ad0"/><ellipse cx="620" cy="900" rx="80" ry="50" fill="#aca5d3"/><ellipse cx="700" cy="960" rx="60" ry="50" fill="#a8a0cf"/><ellipse cx="520" cy="890" rx="50" ry="40" fill="#b1aad4"/><ellipse cx="300" cy="1000" rx="80" ry="60" fill="#b5afd7"/><ellipse cx="380" cy="1080" rx="100" ry="40" fill="#b8b2d8"/><ellipse cx="800" cy="1020" rx="60" ry="40" fill="#b3acd5"/><ellipse cx="900" cy="1060" rx="50" ry="40" fill="#aaa3d1"/><ellipse cx="1000" cy="1000" rx="40" ry="40" fill="#a69ecf"/><ellipse cx="1100" cy="1080" rx="60" ry="40" fill="#8e82c0"/><ellipse cx="430" cy="620" rx="40" ry="30" fill="#a8a1d0"/><ellipse cx="600" cy="560" rx="40" ry="30" fill="#9a91c6"/>
<ellipse cx="260" cy="435" rx="45" ry="40" fill="#7561b0"/><ellipse cx="250" cy="530" rx="40" ry="30" fill="#a39bcc"/><ellipse cx="330" cy="505" rx="30" ry="30" fill="#9c93c8"/><ellipse cx="540" cy="610" rx="45" ry="35" fill="#7460ae"/><ellipse cx="600" cy="690" rx="100" ry="65" fill="#6a51a3"/><ellipse cx="690" cy="680" rx="60" ry="55" fill="#62469f"/><ellipse cx="730" cy="740" rx="50" ry="35" fill="#58389a"/><ellipse cx="800" cy="720" rx="60" ry="40" fill="#8576bb"/><ellipse cx="860" cy="800" rx="50" ry="40" fill="#9f96ca"/><ellipse cx="980" cy="900" rx="80" ry="50" fill="#8a7cbd"/><ellipse cx="950" cy="860" rx="40" ry="40" fill="#7b68b5"/><ellipse cx="1080" cy="990" rx="70" ry="45" fill="#5a3a9a"/><ellipse cx="1160" cy="1050" rx="40" ry="30" fill="#7561b0"/>
<ellipse cx="470" cy="880" rx="60" ry="30" fill="#e6e3f0"/><ellipse cx="540" cy="1050" rx="35" ry="60" fill="#ebe9f3"/><ellipse cx="690" cy="1095" rx="80" ry="25" fill="#e8e5f1"/>
<ellipse cx="745" cy="150" rx="14" ry="7" fill="#cfcbe4"/>
</g>
<g class="dz">
<ellipse cx="320" cy="495" rx="18" ry="25"/><ellipse cx="355" cy="548" rx="25" ry="20"/><ellipse cx="410" cy="548" rx="30" ry="20"/><ellipse cx="460" cy="552" rx="22" ry="18"/><ellipse cx="342" cy="640" rx="40" ry="50"/><ellipse cx="370" cy="655" rx="30" ry="55"/><ellipse cx="430" cy="690" rx="30" ry="25"/><ellipse cx="390" cy="735" rx="40" ry="35"/><ellipse cx="350" cy="765" rx="18" ry="18"/><ellipse cx="420" cy="820" rx="35" ry="45"/><ellipse cx="480" cy="855" rx="25" ry="15"/><ellipse cx="515" cy="810" rx="20" ry="20"/><ellipse cx="575" cy="790" rx="35" ry="28"/><ellipse cx="480" cy="652" rx="15" ry="12"/><ellipse cx="590" cy="873" rx="20" ry="20"/><ellipse cx="430" cy="905" rx="30" ry="12"/><ellipse cx="477" cy="942" rx="16" ry="18"/><ellipse cx="430" cy="998" rx="28" ry="28"/><ellipse cx="585" cy="1040" rx="32" ry="45"/><ellipse cx="640" cy="1000" rx="30" ry="20"/><ellipse cx="727" cy="970" rx="25" ry="20"/><ellipse cx="770" cy="930" rx="18" ry="18"/><ellipse cx="840" cy="795" rx="40" ry="35"/><ellipse cx="790" cy="830" rx="20" ry="18"/><ellipse cx="820" cy="945" rx="20" ry="30"/><ellipse cx="825" cy="990" rx="25" ry="20"/><ellipse cx="880" cy="985" rx="30" ry="18"/><ellipse cx="930" cy="960" rx="35" ry="40"/><ellipse cx="990" cy="1020" rx="28" ry="18"/><ellipse cx="1080" cy="985" rx="45" ry="30"/><ellipse cx="960" cy="880" rx="40" ry="40"/><ellipse cx="995" cy="905" rx="30" ry="40"/><ellipse cx="1050" cy="940" rx="25" ry="30"/><ellipse cx="925" cy="745" rx="28" ry="30"/><ellipse cx="1075" cy="785" rx="28" ry="25"/><ellipse cx="1050" cy="815" rx="15" ry="25"/><ellipse cx="1085" cy="885" rx="20" ry="18"/><ellipse cx="1042" cy="682" rx="10" ry="10"/><ellipse cx="870" cy="820" rx="20" ry="20"/>
<polygon points="770,545 800,515 870,515 930,515 905,590 880,620 870,665 830,650 790,590"/>
<polyline points="800,560 840,540 860,600 840,620"/>
</g>
</g>
</g>
<rect x="114.3" y="1718.3" width="326" height="324.4" class="sp"/>
<path class="tk" d="M114.3 2042.7v4.9M193.9 2042.7v4.9M273.5 2042.7v4.9M353.1 2042.7v4.9M432.7 2042.7v4.9M114.3 2042.7h-4.9M114.3 2003.1h-4.9M114.3 1963.5h-4.9M114.3 1923.9h-4.9M114.3 1884.3h-4.9M114.3 1844.7h-4.9M114.3 1805.1h-4.9M114.3 1765.5h-4.9M114.3 1725.9h-4.9"/>
<g class="t c"><text x="114.3" y="2062.7">0</text><text x="193.9" y="2062.7">500</text><text x="273.5" y="2062.7">1000</text><text x="353.1" y="2062.7">1500</text><text x="432.7" y="2062.7">2000</text></g>
<g class="t e"><text x="104.6" y="2047.7">0</text><text x="104.6" y="2008.1">250</text><text x="104.6" y="1968.5">500</text><text x="104.6" y="1928.9">750</text><text x="104.6" y="1889.3">1000</text><text x="104.6" y="1849.7">1250</text><text x="104.6" y="1810.1">1500</text><text x="104.6" y="1770.5">1750</text><text x="104.6" y="1730.9">2000</text></g>
<text x="277.3" y="1710" class="ti">DAPI and cell boundary (fov=438)</text>

<!-- ===== P11 DAPI 394 ===== -->
<g clip-path="url(#c11)">
<rect x="605.5" y="1718.3" width="324.5" height="324.4" fill="#f8f7fb"/>
<g filter="url(#bl2)">
<polygon fill="#d3cfe8" points="600,1712 935,1712 935,1816.7 882.9,1830 834,1823.3 797.2,1836.7 723.7,1836.7 680.9,1830 650.2,1813.3 600,1813.3"/>
<ellipse cx="702" cy="1765" rx="18" ry="10" fill="#f3f1f8"/>
<circle cx="619.6" cy="1790" r="16" fill="#7a66b3"/><circle cx="625.7" cy="1756.7" r="14" fill="#9a90c7"/><circle cx="625.7" cy="1743.3" r="12" fill="#a49ccd"/><circle cx="705.3" cy="1823.3" r="11" fill="#8270b8"/><circle cx="736" cy="1790" r="14" fill="#8473ba"/><circle cx="742.1" cy="1766.7" r="16" fill="#aaa3d0"/><circle cx="760.5" cy="1823.3" r="11" fill="#8676bb"/><circle cx="809.5" cy="1803.3" r="14" fill="#9b92c8"/><circle cx="668.6" cy="1733.3" r="14" fill="#a79fcf"/><circle cx="711.5" cy="1723.3" r="13" fill="#9d94c9"/><circle cx="858.4" cy="1740" r="16" fill="#aba4d1"/><circle cx="907.4" cy="1726.7" r="14" fill="#a9a1d0"/><circle cx="913.6" cy="1763.3" r="16" fill="#b6b0d7"/><circle cx="882.9" cy="1806.7" r="16" fill="#b4aed6"/><circle cx="907.4" cy="1816.7" r="12" fill="#aca5d2"/><circle cx="834" cy="1790" r="16" fill="#c3bedf"/><circle cx="772.7" cy="1743.3" r="14" fill="#b0a9d3"/><circle cx="687" cy="1790" r="10" fill="#8d80bf"/>
<circle cx="656.4" cy="1800" r="12" fill="#4f2f94"/><circle cx="785" cy="1810" r="15" fill="#5b3d9b"/>
</g>
<g class="dp">
<ellipse cx="631.9" cy="1722.3" rx="7.3" ry="4"/><ellipse cx="668.6" cy="1733.3" rx="12.2" ry="10"/><ellipse cx="693.1" cy="1726.7" rx="9.2" ry="5"/><ellipse cx="723.7" cy="1731.7" rx="18.4" ry="10"/><ellipse cx="711.5" cy="1746.7" rx="9.2" ry="10"/><ellipse cx="754.3" cy="1726.7" rx="9.2" ry="6.7"/><ellipse cx="769.7" cy="1743.3" rx="9.2" ry="13.3"/><ellipse cx="788" cy="1733.3" rx="6.1" ry="6.7"/><ellipse cx="803.3" cy="1726.7" rx="9.2" ry="8.3"/><ellipse cx="809.5" cy="1750" rx="12.2" ry="10"/><ellipse cx="846.2" cy="1731.7" rx="9.2" ry="16.7"/><ellipse cx="849.3" cy="1746.7" rx="7.3" ry="8.3"/><ellipse cx="886" cy="1750" rx="9.2" ry="6.7"/><ellipse cx="687" cy="1766.7" rx="7.3" ry="10"/><ellipse cx="616.6" cy="1788.3" rx="12.2" ry="11.7"/><ellipse cx="644.1" cy="1790" rx="12.2" ry="11.7"/><ellipse cx="668.6" cy="1790" rx="9.2" ry="13.3"/><ellipse cx="687" cy="1806.7" rx="7.3" ry="13.3"/><ellipse cx="708.4" cy="1798.3" rx="12.2" ry="6.7"/><ellipse cx="705.3" cy="1823.3" rx="11" ry="10"/><ellipse cx="723.7" cy="1826.7" rx="6.1" ry="6.7"/><ellipse cx="760.5" cy="1830" rx="6.1" ry="5"/><ellipse cx="821.7" cy="1806.7" rx="4.9" ry="5"/><ellipse cx="840.1" cy="1806.7" rx="6.1" ry="10"/><ellipse cx="873.8" cy="1786.7" rx="6.1" ry="8.3"/><ellipse cx="742.1" cy="1810" rx="6.1" ry="5"/>
<ellipse cx="622.7" cy="1953.3" rx="12.2" ry="10"/><ellipse cx="644.1" cy="1963.3" rx="15.3" ry="13.3"/><ellipse cx="662.5" cy="1953.3" rx="9.2" ry="13.3"/><ellipse cx="662.5" cy="1973.3" rx="9.2" ry="10"/><ellipse cx="699.2" cy="1963.3" rx="9.2" ry="20"/><ellipse cx="711.5" cy="1976.7" rx="12.2" ry="16.7"/><ellipse cx="736" cy="1956.7" rx="9.2" ry="13.3"/><ellipse cx="742.1" cy="1980" rx="9.2" ry="13.3"/><ellipse cx="766.6" cy="1966.7" rx="12.2" ry="13.3"/><ellipse cx="781.9" cy="1956.7" rx="9.2" ry="10"/><ellipse cx="785" cy="1976.7" rx="12.2" ry="16.7"/><ellipse cx="723.7" cy="1996.7" rx="12.2" ry="6.7"/><ellipse cx="693.1" cy="1993.3" rx="12.2" ry="6.7"/><ellipse cx="821.7" cy="1983.3" rx="15.3" ry="10"/><ellipse cx="840.1" cy="1960" rx="12.2" ry="13.3"/><ellipse cx="846.2" cy="1990" rx="9.2" ry="13.3"/><ellipse cx="870.7" cy="1973.3" rx="9.2" ry="16.7"/><ellipse cx="882.9" cy="1996.7" rx="9.2" ry="16.7"/><ellipse cx="892.1" cy="1956.7" rx="7.3" ry="13.3"/><ellipse cx="809.5" cy="1996.7" rx="9.2" ry="6.7"/><ellipse cx="760.5" cy="2000" rx="9.2" ry="6.7"/><ellipse cx="631.9" cy="1976.7" rx="9.2" ry="6.7"/><ellipse cx="677.8" cy="1983.3" rx="6.1" ry="6.7"/><ellipse cx="858.4" cy="2010" rx="6.1" ry="6.7"/>
</g>
<circle cx="913.6" cy="1946.7" r="0.9" fill="#000"/>
</g>
<rect x="605.5" y="1718.3" width="324.5" height="324.4" class="sp"/>
<path class="tk" d="M605.5 2042.7v4.9M685.1 2042.7v4.9M764.7 2042.7v4.9M844.3 2042.7v4.9M923.9 2042.7v4.9M605.5 2042.7h-4.9M605.5 2003.1h-4.9M605.5 1963.5h-4.9M605.5 1923.9h-4.9M605.5 1884.3h-4.9M605.5 1844.7h-4.9M605.5 1805.1h-4.9M605.5 1765.5h-4.9M605.5 1725.9h-4.9"/>
<g class="t c"><text x="605.5" y="2062.7">0</text><text x="685.1" y="2062.7">500</text><text x="764.7" y="2062.7">1000</text><text x="844.3" y="2062.7">1500</text><text x="923.9" y="2062.7">2000</text></g>
<g class="t e"><text x="595.8" y="2047.7">0</text><text x="595.8" y="2008.1">250</text><text x="595.8" y="1968.5">500</text><text x="595.8" y="1928.9">750</text><text x="595.8" y="1889.3">1000</text><text x="595.8" y="1849.7">1250</text><text x="595.8" y="1810.1">1500</text><text x="595.8" y="1770.5">1750</text><text x="595.8" y="1730.9">2000</text></g>
<text x="767.8" y="1710" class="ti">DAPI and cell boundary (fov=394)</text>

<!-- ===== P12 DAPI 454 ===== -->
<g clip-path="url(#c12)">
<rect x="1095.4" y="1718.3" width="326.4" height="324.4" fill="#eeecf5"/>
<g filter="url(#bl4)">
<polygon fill="#bdb6da" points="1080,1705 1165,1705 1182,1790 1206,1856.7 1230,1923.3 1266,1990 1298,2055 1080,2055"/>
<polygon fill="#a79fcf" points="1080,1740 1120,1705 1146,1790 1170,1856.7 1200,1923.3 1228,1990 1245,2055 1150,2055 1125,1990 1105,1923.3 1080,1856.7"/>
<polygon fill="#c6c0df" points="1262.6,1906.7 1435,1885 1435,2055 1293.3,2055 1274.9,1990"/>
<polygon fill="#d4cfe7" points="1230,1705 1435,1705 1435,1885 1262,1906 1240,1850 1220,1780"/>
</g>
<g filter="url(#bl2)">
<circle cx="1409.6" cy="1733.3" r="14" fill="#5a3a9a"/><circle cx="1354.5" cy="1736.7" r="12" fill="#8a7cbd"/><circle cx="1317.7" cy="1793.3" r="11" fill="#7560b0"/><circle cx="1330" cy="1830" r="13" fill="#9185c2"/><circle cx="1397.4" cy="1790" r="14" fill="#8f83c0"/><circle cx="1385.1" cy="1856.7" r="12" fill="#a59dcd"/><circle cx="1293.3" cy="1880" r="13" fill="#a39bcc"/><circle cx="1244.3" cy="1903.3" r="12" fill="#aaa2d1"/><circle cx="1213.6" cy="1756.7" r="14" fill="#c4bedf"/><circle cx="1262.6" cy="1733.3" r="12" fill="#b1aad4"/><circle cx="1115.7" cy="1766.7" r="16" fill="#8674b9"/><circle cx="1152.4" cy="2023.3" r="14" fill="#978cc5"/><circle cx="1336.1" cy="2000" r="12" fill="#6a51a3"/><circle cx="1385.1" cy="1943.3" r="12" fill="#a9a1d0"/><circle cx="1305.5" cy="1956.7" r="12" fill="#a8a0cf"/><circle cx="1409.6" cy="1823.3" r="12" fill="#8c7fbf"/><circle cx="1372.9" cy="1756.7" r="10" fill="#9b91c7"/><circle cx="1287.1" cy="1790" r="10" fill="#b5aed7"/><circle cx="1305.5" cy="1750" r="10" fill="#c0bade"/><circle cx="1183" cy="1906.7" r="12" fill="#978cc5"/><circle cx="1189.1" cy="1983.3" r="14" fill="#978cc5"/><circle cx="1250.4" cy="1846.7" r="12" fill="#bcb5da"/>
</g>
<g class="dp">
<ellipse cx="1140.2" cy="1733.3" rx="7.3" ry="13.3"/><ellipse cx="1189.1" cy="1750" rx="9.2" ry="16.7"/><ellipse cx="1219.8" cy="1730" rx="12.2" ry="10"/><ellipse cx="1250.4" cy="1730" rx="9.2" ry="13.3"/><ellipse cx="1299.4" cy="1753.3" rx="9.2" ry="20"/><ellipse cx="1354.5" cy="1736.7" rx="12.2" ry="15"/><ellipse cx="1385.1" cy="1750" rx="9.2" ry="11.7"/><ellipse cx="1409.6" cy="1730" rx="9.2" ry="10"/><ellipse cx="1189.1" cy="1776.7" rx="9.2" ry="13.3"/><ellipse cx="1232" cy="1776.7" rx="11" ry="11.7"/><ellipse cx="1274.9" cy="1763.3" rx="9.2" ry="8.3"/><ellipse cx="1305.5" cy="1796.7" rx="12.2" ry="15"/><ellipse cx="1342.2" cy="1800" rx="9.2" ry="8.3"/><ellipse cx="1391.2" cy="1790" rx="9.2" ry="11.7"/><ellipse cx="1409.6" cy="1796.7" rx="9.2" ry="13.3"/><ellipse cx="1201.4" cy="1810" rx="12.2" ry="10"/><ellipse cx="1250.4" cy="1813.3" rx="9.2" ry="10"/><ellipse cx="1268.8" cy="1830" rx="9.2" ry="10"/><ellipse cx="1238.1" cy="1840" rx="11" ry="15"/><ellipse cx="1305.5" cy="1846.7" rx="9.2" ry="10"/><ellipse cx="1330" cy="1823.3" rx="9.2" ry="10"/><ellipse cx="1385.1" cy="1826.7" rx="7.3" ry="8.3"/><ellipse cx="1409.6" cy="1846.7" rx="7.3" ry="10"/><ellipse cx="1219.8" cy="1856.7" rx="7.3" ry="10"/><ellipse cx="1284.1" cy="1863.3" rx="9.2" ry="15"/><ellipse cx="1336.1" cy="1870" rx="9.2" ry="13.3"/><ellipse cx="1379" cy="1866.7" rx="9.2" ry="10"/><ellipse cx="1348.4" cy="1893.3" rx="9.2" ry="13.3"/><ellipse cx="1250.4" cy="1890" rx="12.2" ry="11.7"/><ellipse cx="1299.4" cy="1906.7" rx="12.2" ry="13.3"/><ellipse cx="1323.9" cy="1906.7" rx="9.2" ry="10"/><ellipse cx="1372.9" cy="1896.7" rx="9.2" ry="6.7"/><ellipse cx="1397.4" cy="1916.7" rx="9.2" ry="8.3"/><ellipse cx="1391.2" cy="1956.7" rx="9.2" ry="13.3"/><ellipse cx="1409.6" cy="1930" rx="7.3" ry="8.3"/><ellipse cx="1342.2" cy="1950" rx="9.2" ry="8.3"/><ellipse cx="1274.9" cy="1930" rx="9.2" ry="8.3"/><ellipse cx="1250.4" cy="1936.7" rx="12.2" ry="15"/><ellipse cx="1268.8" cy="1960" rx="15.3" ry="8.3"/><ellipse cx="1299.4" cy="1970" rx="9.2" ry="10"/><ellipse cx="1287.1" cy="1993.3" rx="12.2" ry="11.7"/><ellipse cx="1354.5" cy="1966.7" rx="12.2" ry="10"/><ellipse cx="1397.4" cy="1996.7" rx="9.2" ry="6.7"/><ellipse cx="1415.7" cy="2003.3" rx="6.1" ry="6.7"/><ellipse cx="1127.9" cy="1910" rx="9.2" ry="20"/><ellipse cx="1152.4" cy="1906.7" rx="15.3" ry="20"/><ellipse cx="1164.6" cy="1940" rx="15.3" ry="30"/><ellipse cx="1127.9" cy="1950" rx="9.2" ry="10"/><ellipse cx="1127.9" cy="1970" rx="9.2" ry="8.3"/><ellipse cx="1146.3" cy="1956.7" rx="12.2" ry="20"/><ellipse cx="1219.8" cy="1883.3" rx="9.2" ry="13.3"/><ellipse cx="1238.1" cy="1906.7" rx="9.2" ry="8.3"/><ellipse cx="1336.1" cy="1990" rx="7.3" ry="6.7"/><ellipse cx="1305.5" cy="1990" rx="9.2" ry="10"/>
</g>
</g>
<rect x="1095.4" y="1718.3" width="326.4" height="324.4" class="sp"/>
<path class="tk" d="M1095.4 2042.7v4.9M1175 2042.7v4.9M1254.6 2042.7v4.9M1334.2 2042.7v4.9M1413.8 2042.7v4.9M1095.4 2042.7h-4.9M1095.4 2003.1h-4.9M1095.4 1963.5h-4.9M1095.4 1923.9h-4.9M1095.4 1884.3h-4.9M1095.4 1844.7h-4.9M1095.4 1805.1h-4.9M1095.4 1765.5h-4.9M1095.4 1725.9h-4.9"/>
<g class="t c"><text x="1095.4" y="2062.7">0</text><text x="1175" y="2062.7">500</text><text x="1254.6" y="2062.7">1000</text><text x="1334.2" y="2062.7">1500</text><text x="1413.8" y="2062.7">2000</text></g>
<g class="t e"><text x="1085.7" y="2047.7">0</text><text x="1085.7" y="2008.1">250</text><text x="1085.7" y="1968.5">500</text><text x="1085.7" y="1928.9">750</text><text x="1085.7" y="1889.3">1000</text><text x="1085.7" y="1849.7">1250</text><text x="1085.7" y="1810.1">1500</text><text x="1085.7" y="1770.5">1750</text><text x="1085.7" y="1730.9">2000</text></g>
<text x="1258.6" y="1710" class="ti">DAPI and cell boundary (fov=454)</text>
</svg>
</body></html>
